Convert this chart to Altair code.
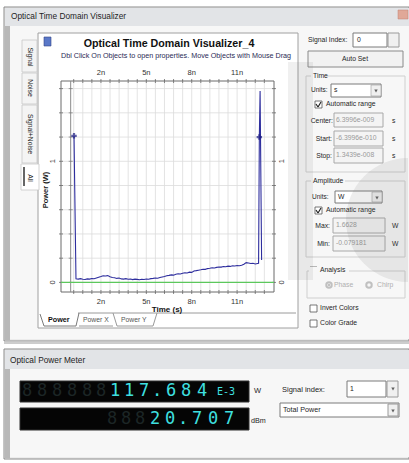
import altair as alt
import pandas as pd

W, H = 409, 463

# ---------------- data ----------------
time_ns = [0.22, 0.35, 0.5, 0.65, 0.8, 0.95, 1.1, 1.25, 1.4, 1.55, 1.7, 1.85, 2.0, 2.15,
           2.3, 2.45, 2.6, 2.75, 2.9, 3.05, 3.2, 3.35, 3.5, 3.65, 3.8, 3.95, 4.1, 4.25,
           4.4, 4.55, 4.7, 4.85, 5.0, 5.15, 5.3, 5.45, 5.6, 5.75, 5.9, 6.05, 6.2, 6.35,
           6.5, 6.65, 6.8, 6.95, 7.1, 7.25, 7.4, 7.55, 7.7, 7.85, 8.0, 8.15, 8.3, 8.45,
           8.6, 8.75, 8.9, 9.05, 9.2, 9.35, 9.5, 9.65, 9.8, 9.95, 10.1, 10.25, 10.4,
           10.55, 10.7, 10.85, 11.0, 11.15, 11.3, 11.45, 11.6, 11.75, 11.9, 12.05, 12.2,
           12.35, 12.42, 12.47, 12.52, 12.62]
power_w = [1.21, 0.030, 0.027, 0.031, 0.026, 0.024, 0.029, 0.027, 0.032, 0.030, 0.036,
           0.042, 0.048, 0.055, 0.053, 0.056, 0.047, 0.040, 0.038, 0.033, 0.036, 0.029,
           0.027, 0.031, 0.026, 0.028, 0.023, 0.027, 0.025, 0.022, 0.026, 0.024, 0.028,
           0.026, 0.031, 0.033, 0.036, 0.034, 0.040, 0.044, 0.048, 0.055, 0.058, 0.062,
           0.060, 0.067, 0.071, 0.069, 0.076, 0.080, 0.078, 0.085, 0.083, 0.094, 0.097,
           0.101, 0.104, 0.109, 0.108, 0.114, 0.117, 0.121, 0.119, 0.124, 0.127, 0.126,
           0.131, 0.129, 0.134, 0.132, 0.137, 0.136, 0.140, 0.138, 0.142, 0.150, 0.163,
           0.160, 0.156, 0.158, 0.152, 0.156, 0.158, 1.20, 1.58, 0.185]
marker_t = [0.22, 12.47]
marker_p = [1.21, 1.20]
noise_t = [-0.64, 13.44]
noise_w = [0.0, 0.0]
x_label_ticks = [2, 5, 8, 11]
x_label_text = ["2n", "5n", "8n", "11n"]
x_grid = [0.2, 0.8, 1.4, 2.0, 2.6, 3.2, 3.8, 4.4, 5.0, 5.6, 6.2, 6.8, 7.4, 8.0, 8.6,
          9.2, 9.8, 10.4, 11.0, 11.6, 12.2, 12.8]
y_grid = [0.0, 0.2, 0.4, 0.6, 0.8, 1.0, 1.2, 1.4, 1.6]
y_label_ticks = [0, 1]
t_min, t_max = -0.63996, 13.439
p_min, p_max = -0.079181, 1.6628

# ---------------- scales ----------------
XS = alt.Scale(domain=[t_min, t_max], range=[61, 274], nice=False, zero=False)
YS = alt.Scale(domain=[p_min, p_max], range=[292, 81], nice=False, zero=False)

FONT = "Liberation Sans"
FS = 6.8


def px(f):
    return alt.X(f, type="quantitative", scale=None, axis=None)


def py(f):
    return alt.Y(f, type="quantitative", scale=None, axis=None)


def sx(f):
    return alt.X(f, type="quantitative", scale=XS, axis=None)


def sy(f):
    return alt.Y(f, type="quantitative", scale=YS, axis=None)


def rects(rows, opacity=1.0):
    df = pd.DataFrame(rows, columns=["x", "x2", "y", "y2", "fill", "stroke", "sw"])
    return alt.Chart(df).mark_rect(opacity=opacity).encode(
        x=px("x"), x2="x2:Q", y=py("y"), y2="y2:Q",
        fill=alt.Fill("fill:N", scale=None),
        stroke=alt.Stroke("stroke:N", scale=None),
        strokeWidth=alt.StrokeWidth("sw:Q", scale=None),
    )


def rules(rows):
    df = pd.DataFrame(rows, columns=["x", "x2", "y", "y2", "c", "sw"])
    return alt.Chart(df).mark_rule().encode(
        x=px("x"), x2="x2:Q", y=py("y"), y2="y2:Q",
        color=alt.Color("c:N", scale=None),
        strokeWidth=alt.StrokeWidth("sw:Q", scale=None),
    )


def texts(rows, align="left", weight="normal", font=FONT):
    df = pd.DataFrame(rows, columns=["x", "y", "t", "s", "c", "a"])
    return alt.Chart(df).mark_text(align=align, baseline="middle",
                                   fontWeight=weight, font=font).encode(
        x=px("x"), y=py("y"), text="t:N",
        size=alt.Size("s:Q", scale=None),
        color=alt.Color("c:N", scale=None),
        angle=alt.Angle("a:Q", scale=None),
    )


N = "transparent"
layers = []

# ---------------- window frames ----------------
layers.append(rects([
    (4, 409, 7, 341, "#ececec", "#8a8a8a", 1),
    (5, 409, 8, 26, "#e2e4e7", N, 0),
    (5, 10, 26, 340, "#b8b8b8", N, 0),
    (10, 409, 26, 339, "#f7f7f7", N, 0),
    (398, 408, 10, 19, "#e0a898", "#c08070", 0.5),
    # graph panel
    (38, 298, 33, 328, "#ffffff", "#a0a0a0", 1),
    # left tabs
    (22, 37, 40, 72, "#f4f4f4", "#c8c8c8", 0.8),
    (22, 37, 73, 104, "#f4f4f4", "#c8c8c8", 0.8),
    (22, 37, 105, 163, "#f4f4f4", "#c8c8c8", 0.8),
    (21, 39, 164, 190, "#ffffff", "#c8c8c8", 0.8),
    # icon
    (44, 51, 37, 46, "#5a78c8", "#334488", 0.6),
    # plot frame
    (61, 274, 81, 292, N, "#6a6a6a", 1),
    # power meter window
    (4, 409, 349, 459, "#ececec", "#8a8a8a", 1),
    (5, 409, 350, 369, "#e2e4e7", N, 0),
    (5, 10, 369, 458, "#b8b8b8", N, 0),
    (10, 409, 369, 457, "#f7f7f7", N, 0),
    (20, 249, 381, 402, "#050505", "#303030", 1),
    (20, 249, 408, 430, "#050505", "#303030", 1),
    # power meter controls
    (347, 386, 381, 397, "#ffffff", "#7a7a7a", 1),
    (387, 398, 381, 397, "#f0f0f0", "#9a9a9a", 1),
    (280, 399, 403, 417, "#ffffff", "#7a7a7a", 1),
    (388, 398, 404, 416, "#f0f0f0", "#9a9a9a", 1),
    # right panel of visualizer
    (353, 387, 33, 47, "#ffffff", "#7a7a7a", 1),
    (388, 399, 33, 47, "#f0f0f0", "#9a9a9a", 1),
    (308, 403, 51, 67, "#f2f2f2", "#8a8a8a", 1),
    (306, 405, 76, 172, N, "#cfcfcf", 1),
    (306, 405, 181, 257, N, "#cfcfcf", 1),
    (307, 405, 271, 298, N, "#cfcfcf", 1),
    (331, 381, 84, 97, "#ffffff", "#7a7a7a", 1),
    (371, 381, 85, 96, "#f0f0f0", "#9a9a9a", 0.6),
    (334, 383, 113, 127, "#f4f4f4", "#a8a8a8", 1),
    (334, 383, 131, 146, "#f4f4f4", "#a8a8a8", 1),
    (334, 383, 148, 163, "#f4f4f4", "#a8a8a8", 1),
    (335, 382, 191, 203, "#ffffff", "#7a7a7a", 1),
    (372, 382, 192, 202, "#f0f0f0", "#9a9a9a", 0.6),
    (333, 385, 218, 233, "#f4f4f4", "#a8a8a8", 1),
    (333, 385, 236, 251, "#f4f4f4", "#a8a8a8", 1),
    # checkboxes
    (315, 322, 101, 108, "#ffffff", "#555555", 0.8),
    (315, 322, 207, 214, "#ffffff", "#555555", 0.8),
    (310, 317, 267, 274, "#ffffff", "#555555", 0.8),
    (310, 317, 305, 312, "#ffffff", "#555555", 0.8),
    (310, 317, 320, 327, "#ffffff", "#555555", 0.8),
]))

# group box labels need a background gap
layers.append(rects([
    (311, 326, 72, 80, "#f7f7f7", N, 0),
    (311, 345, 177, 185, "#f7f7f7", N, 0),
    (309, 349, 267, 275, "#f7f7f7", N, 0),
]))

# ---------------- plot grid ----------------
gx = pd.DataFrame({"t": x_grid})
layers.append(alt.Chart(gx).mark_rule(color="#dcdcdc", strokeWidth=0.8).encode(
    x=sx("t:Q"), y=alt.datum(p_min, type="quantitative", scale=YS, axis=None),
    y2=alt.datum(p_max)))
gy = pd.DataFrame({"p": y_grid})
layers.append(alt.Chart(gy).mark_rule(color="#dcdcdc", strokeWidth=0.8).encode(
    y=sy("p:Q"), x=alt.datum(t_min, type="quantitative", scale=XS, axis=None),
    x2=alt.datum(t_max)))
# t = 0 axis line
layers.append(alt.Chart(pd.DataFrame({"t": [0.0]})).mark_rule(color="#8a8a8a", strokeWidth=1).encode(
    x=sx("t:Q"), y=alt.datum(p_min, type="quantitative", scale=YS, axis=None),
    y2=alt.datum(p_max)))

# ticks on frame
tk = pd.DataFrame({"t": x_grid})
for yy in (292, 81):
    layers.append(alt.Chart(tk).mark_tick(orient="vertical", size=4, thickness=1, color="#555555").encode(
        x=sx("t:Q"), y=alt.value(yy)))
for xx in (61, 274):
    layers.append(alt.Chart(gy).mark_tick(orient="horizontal", size=4, thickness=1, color="#555555").encode(
        y=sy("p:Q"), x=alt.value(xx)))
layers.append(alt.Chart(gy).mark_tick(orient="horizontal", size=4, thickness=1, color="#777777").encode(
    y=sy("p:Q"), x=alt.datum(0.0, type="quantitative", scale=XS, axis=None)))

# ---------------- traces ----------------
nd = pd.DataFrame({"t": noise_t, "p": noise_w})
layers.append(alt.Chart(nd).mark_line(color="#5cc85c", strokeWidth=1.2).encode(
    x=sx("t:Q"), y=sy("p:Q")))
sd = pd.DataFrame({"t": time_ns, "p": power_w})
layers.append(alt.Chart(sd).mark_line(color="#2e2e9e", strokeWidth=1.1).encode(
    x=sx("t:Q"), y=sy("p:Q")))
mk = pd.DataFrame({"t": marker_t, "p": marker_p})
layers.append(alt.Chart(mk).mark_point(shape="cross", size=30, filled=True, color="#1a1a80").encode(
    x=sx("t:Q"), y=sy("p:Q")))

# axis labels
xl = pd.DataFrame({"t": x_label_ticks, "lab": x_label_text})
for yy in (73, 302):
    layers.append(alt.Chart(xl).mark_text(font=FONT, fontSize=7.5, color="#333333", baseline="middle").encode(
        x=sx("t:Q"), y=alt.value(yy), text="lab:N"))
yl = pd.DataFrame({"p": y_label_ticks, "lab": [str(v) for v in y_label_ticks]})
for xx in (53, 282):
    layers.append(alt.Chart(yl).mark_text(font=FONT, fontSize=7.5, color="#333333", baseline="middle",
                                          angle=270).encode(
        y=sy("p:Q"), x=alt.value(xx), text="lab:N"))

# ---------------- rules / lines of UI ----------------
layers.append(rules([
    # bottom tabs
    (78, 296, 313, 313, "#9a9a9a", 1),
    (40, 44, 314, 326, "#7a7a7a", 1),
    (44, 76, 326, 326, "#7a7a7a", 1),
    (76, 79, 326, 313, "#7a7a7a", 1),
    (79, 113, 326, 326, "#9a9a9a", 1),
    (113, 117, 313, 326, "#9a9a9a", 1),
    (117, 153, 326, 326, "#9a9a9a", 1),
    (153, 157, 326, 313, "#9a9a9a", 1),
    # selected left tab marker
    (24, 24, 167, 186, "#333333", 1.5),
    # check marks
    (316, 318, 104, 107, "#222222", 1.2), (318, 321, 107, 102, "#222222", 1.2),
    (316, 318, 210, 213, "#222222", 1.2), (318, 321, 213, 208, "#222222", 1.2),
    # window separator
    (4, 409, 343, 343, "#9a9a9a", 1),
]))

# dropdown arrows
layers.append(alt.Chart(pd.DataFrame({"x": [376, 377, 393, 393], "y": [91, 198, 389, 411]})).mark_point(
    shape="triangle-down", size=12, filled=True, color="#222222").encode(x=px("x"), y=py("y")))

# ---------------- texts ----------------
TXT = "#1e1e1e"
GRY = "#9a9a9a"
layers.append(texts([
    (11, 17, "Optical Time Domain Visualizer", 8.3, TXT, 0),
    (10, 361, "Optical Power Meter", 8.3, TXT, 0),
    (308, 40, "Signal Index:", FS, TXT, 0),
    (357, 40, "0", FS, TXT, 0),
    (313, 76, "Time", FS, TXT, 0),
    (311, 90, "Units:", 6.5, TXT, 0),
    (334, 90, "s", FS, TXT, 0),
    (326, 104, "Automatic range", FS, TXT, 0),
    (336, 120, "6.3996e-009", FS, GRY, 0),
    (336, 138, "-6.3996e-010", FS, GRY, 0),
    (336, 155, "1.3439e-008", FS, GRY, 0),
    (392, 121, "s", FS, TXT, 0),
    (392, 139, "s", FS, TXT, 0),
    (392, 156, "s", FS, TXT, 0),
    (313, 181, "Amplitude", FS, TXT, 0),
    (312, 197, "Units:", 6.5, TXT, 0),
    (338, 197, "W", FS, TXT, 0),
    (326, 210, "Automatic range", FS, TXT, 0),
    (336, 225, "1.6628", FS, GRY, 0),
    (336, 243, "-0.079181", FS, GRY, 0),
    (392, 226, "W", FS, TXT, 0),
    (392, 244, "W", FS, TXT, 0),
    (320, 270, "Analysis", FS, TXT, 0),
    (334, 285, "Phase", FS, "#b0b0b0", 0),
    (377, 285, "Chirp", FS, "#b0b0b0", 0),
    (320, 308, "Invert Colors", FS, TXT, 0),
    (320, 323, "Color Grade", FS, TXT, 0),
    (83, 320, "Power X", FS, "#555555", 0),
    (121, 320, "Power Y", FS, "#555555", 0),
    (282, 390, "Signal index:", 7.5, TXT, 0),
    (350, 389, "1", FS, TXT, 0),
    (283, 410, "Total Power", 7.2, TXT, 0),
    (254, 391, "W", 7.5, TXT, 0),
    (251, 421, "dBm", 7.2, TXT, 0),
]))
layers.append(texts([
    (333, 121, "Center:", FS, TXT, 0),
    (332, 139, "Start:", FS, TXT, 0),
    (332, 156, "Stop:", FS, TXT, 0),
    (330, 226, "Max:", FS, TXT, 0),
    (330, 244, "Min:", FS, TXT, 0),
], align="right"))
layers.append(texts([
    (355, 59, "Auto Set", FS, TXT, 0),
    (30, 57, "Signal", FS, TXT, 90),
    (30, 88, "Noise", FS, TXT, 90),
    (30, 134, "Signal+Noise", FS, TXT, 90),
    (30, 178, "All", FS, TXT, 90),
    (176, 56, "Dbl Click On Objects to open properties.  Move Objects with Mouse Drag", 7.2, "#2a2a55", 0),
], align="center"))
layers.append(texts([
    (169, 44, "Optical Time Domain Visualizer_4", 10.7, "#111111", 0),
    (167, 310, "Time (s)", 8, "#111111", 0),
    (46, 190, "Power (W)", 7.5, "#1a1a1a", 270),
], align="center", weight="bold"))
layers.append(texts([
    (48, 320, "Power", 7.2, "#111111", 0),
], weight="bold"))

# radio buttons
layers.append(alt.Chart(pd.DataFrame({"x": [329, 369], "y": [285, 285]})).mark_point(
    shape="circle", size=30, filled=False, color="#aaaaaa").encode(x=px("x"), y=py("y")))
layers.append(alt.Chart(pd.DataFrame({"x": [329], "y": [285]})).mark_point(
    shape="circle", size=6, filled=True, color="#aaaaaa").encode(x=px("x"), y=py("y")))

# ---------------- faint watermark over the right side ----------------
layers.append(rects([(288, 313, 62, 280, "#6e6e6e", N, 0)], opacity=0.10))
layers.append(alt.Chart(pd.DataFrame({"x": [408], "y": [220]})).mark_arc(
    radius=62, radius2=0, theta=3.1416, theta2=6.2832, color="#6e6e6e", opacity=0.12).encode(
    x=px("x"), y=py("y")))

# ---------------- LCD digits ----------------
lcd_ghost = [(27, 391, "8"), (42, 391, "8"), (57, 391, "8"), (72, 391, "8"), (87, 391, "8"),
             (101, 391, "8"), (112, 419, "8"), (126, 419, "8"), (140, 419, "8")]
lcd_on = [(115, 391, "1"), (129, 391, "1"), (144, 391, "7"), (157, 391, "."), (171, 391, "6"),
          (186, 391, "8"), (202, 391, "4"),
          (155, 419, "2"), (170, 419, "0"), (183, 419, "."), (197, 419, "7"), (213, 419, "0"),
          (229, 419, "7")]
layers.append(texts([(x, y, c, 17, "#1c2626", 0) for x, y, c in lcd_ghost], align="center",
                    font="DejaVu Sans Mono"))
layers.append(texts([(x, y, c, 17, "#3fe0e0", 0) for x, y, c in lcd_on], align="center",
                    font="DejaVu Sans Mono"))
layers.append(texts([(226, 392, "E-3", 10, "#3fe0e0", 0)], align="center", font="DejaVu Sans Mono"))

chart = alt.layer(*layers).resolve_scale(x="independent", y="independent").properties(
    width=W, height=H, autosize=alt.AutoSizeParams(type="none"), padding=0,
    background="#ffffff",
).configure_view(stroke=None)

chart.save("out.html", embed_options={"renderer": "svg", "actions": False})
